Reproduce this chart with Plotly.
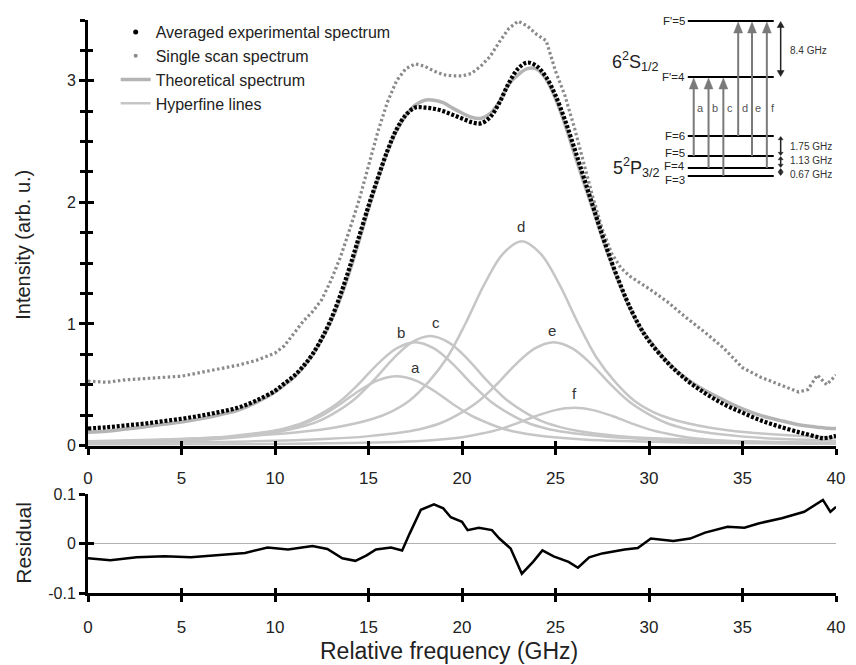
import plotly.graph_objects as go

# ---------------- data ----------------
avg_x = [0, 1, 2, 3, 4, 5, 6, 7, 8, 9, 10,
         10.5, 11, 11.5, 12, 12.5, 13, 13.5, 14, 14.5, 15, 15.5, 16, 16.5, 17, 17.5, 18, 18.5, 19, 19.5, 20,
         20.5, 21, 21.5, 22, 22.5, 23, 23.5, 24, 24.5, 25, 25.5, 26, 26.5, 27, 27.5, 28, 28.5, 29, 29.5, 30,
         31, 32, 33, 34, 35, 36, 37, 38, 38.5, 39, 39.3, 39.6, 40]
avg_y = [0.14, 0.15, 0.165, 0.18, 0.20, 0.22, 0.245, 0.275, 0.31, 0.37, 0.45,
         0.51, 0.57, 0.65, 0.75, 0.88, 1.04, 1.24, 1.47, 1.72, 1.97, 2.20, 2.42, 2.60, 2.72, 2.78, 2.78, 2.77, 2.75, 2.72, 2.69,
         2.66, 2.65, 2.70, 2.82, 2.98, 3.10, 3.15, 3.12, 3.03, 2.88, 2.68, 2.45, 2.21, 1.97, 1.73, 1.51, 1.31, 1.13, 0.98, 0.86,
         0.68, 0.54, 0.43, 0.34, 0.27, 0.205, 0.155, 0.11, 0.09, 0.07, 0.06, 0.065, 0.08]

theo_y = [0.11, 0.118, 0.135, 0.153, 0.174, 0.193, 0.219, 0.251, 0.29, 0.355, 0.44,
          0.498, 0.56, 0.643, 0.745, 0.872, 1.025, 1.212, 1.436, 1.687, 1.948, 2.189, 2.412, 2.59, 2.715, 2.80, 2.84, 2.84, 2.82, 2.775, 2.735,
          2.70, 2.69, 2.73, 2.83, 2.97, 3.05, 3.10, 3.095, 3.013, 2.853, 2.645, 2.404, 2.17, 1.944, 1.71, 1.494, 1.298, 1.12, 0.975, 0.87,
          0.686, 0.55, 0.452, 0.373, 0.302, 0.246, 0.207, 0.171, 0.16, 0.15, 0.146, 0.142, 0.14]

ss_x = [0, 1, 2, 3, 4, 5, 6, 7, 8, 9, 10,
        10.5, 11, 11.5, 12, 12.5, 13, 13.5, 14, 14.5, 15, 15.5, 16, 16.5, 17, 17.5, 18, 18.5, 19, 19.5, 20,
        20.5, 21, 21.5, 22, 22.5, 23, 23.5, 24, 24.5, 25, 25.5, 26, 26.5, 27, 27.5, 28, 28.5, 29, 29.5, 30,
        31, 32, 33, 34, 35, 36, 37, 38, 38.5, 39, 39.5, 40]
ss_y = [0.53, 0.52, 0.54, 0.55, 0.56, 0.57, 0.60, 0.63, 0.66, 0.70, 0.76,
        0.82, 0.92, 1.02, 1.10, 1.20, 1.36, 1.55, 1.78, 2.02, 2.30, 2.58, 2.82, 3.00, 3.10, 3.14, 3.12, 3.08, 3.05, 3.04, 3.04,
        3.06, 3.12, 3.20, 3.32, 3.43, 3.49, 3.45, 3.38, 3.33, 3.08, 2.88, 2.62, 2.32, 2.04, 1.78, 1.58, 1.46, 1.39, 1.34, 1.29,
        1.18, 1.05, 0.93, 0.80, 0.64, 0.56, 0.50, 0.44, 0.46, 0.58, 0.50, 0.58]

hf_a_x = [0, 4.5, 6.5, 8.5, 9.5, 10.5, 11.5, 12.5, 13.5, 14.5, 15.5, 16.5, 17.5, 18.5, 19.5, 20.5, 21.5, 22.5, 23.5, 24.5, 26.5, 28.5, 32.5, 40]
hf_a_y = [0.022, 0.037, 0.050, 0.074, 0.094, 0.125, 0.177, 0.245, 0.342, 0.450, 0.536, 0.570, 0.536, 0.450, 0.342, 0.245, 0.177, 0.125, 0.094, 0.074, 0.050, 0.037, 0.023, 0.012]
hf_b_x = [0, 1.5, 5.5, 7.5, 9.5, 10.5, 11.5, 12.5, 13.5, 14.5, 15.5, 16.5, 17.5, 18.5, 19.5, 20.5, 21.5, 22.5, 23.5, 24.5, 25.5, 27.5, 29.5, 33.5, 40]
hf_b_y = [0.031, 0.034, 0.055, 0.075, 0.111, 0.140, 0.187, 0.264, 0.366, 0.510, 0.672, 0.799, 0.850, 0.799, 0.672, 0.510, 0.366, 0.264, 0.187, 0.140, 0.111, 0.075, 0.055, 0.034, 0.020]
hf_c_x = [0, 2.3, 6.3, 8.3, 10.3, 11.3, 12.3, 13.3, 14.3, 15.3, 16.3, 17.3, 18.3, 19.3, 20.3, 21.3, 22.3, 23.3, 24.3, 25.3, 26.3, 28.3, 30.3, 34.3, 40]
hf_c_y = [0.031, 0.036, 0.059, 0.079, 0.117, 0.149, 0.198, 0.279, 0.387, 0.540, 0.711, 0.846, 0.900, 0.846, 0.711, 0.540, 0.387, 0.279, 0.198, 0.149, 0.117, 0.079, 0.059, 0.036, 0.023]
hf_d_x = [0, 7.2, 11.2, 13.2, 15.2, 16.2, 17.2, 18.2, 19.2, 20.2, 21.2, 22.2, 23.2, 24.2, 25.2, 26.2, 27.2, 28.2, 29.2, 30.2, 31.2, 33.2, 35.2, 40]
hf_d_y = [0.035, 0.067, 0.109, 0.148, 0.218, 0.277, 0.370, 0.521, 0.722, 1.008, 1.327, 1.579, 1.680, 1.579, 1.327, 1.008, 0.722, 0.521, 0.370, 0.277, 0.218, 0.148, 0.109, 0.064]
hf_e_x = [0, 8.9, 12.9, 14.9, 16.9, 17.9, 18.9, 19.9, 20.9, 21.9, 22.9, 23.9, 24.9, 25.9, 26.9, 27.9, 28.9, 29.9, 30.9, 31.9, 32.9, 34.9, 36.9, 40]
hf_e_y = [0.016, 0.034, 0.055, 0.075, 0.111, 0.140, 0.187, 0.264, 0.366, 0.510, 0.672, 0.799, 0.850, 0.799, 0.672, 0.510, 0.366, 0.264, 0.187, 0.140, 0.111, 0.075, 0.055, 0.040]
hf_f_x = [0, 10, 14, 16, 18, 19, 20, 21, 22, 23, 24, 25, 26, 27, 28, 29, 30, 31, 32, 33, 34, 36, 38, 40]
hf_f_y = [0.005, 0.012, 0.020, 0.027, 0.040, 0.051, 0.068, 0.096, 0.133, 0.186, 0.245, 0.291, 0.310, 0.291, 0.245, 0.186, 0.133, 0.096, 0.068, 0.051, 0.040, 0.027, 0.020, 0.016]

hf_names = ["a", "b", "c", "d", "e", "f"]

res_x = [0, 1.2, 2.6, 4.1, 5.5, 7.0, 8.4, 9.6, 10.7, 12.0, 12.8, 13.6, 14.3, 14.9, 15.4, 16.2, 16.8, 17.2, 17.8, 18.5,
         19.0, 19.4, 20.0, 20.3, 20.9, 21.6, 22.0, 22.6, 23.2, 23.8, 24.3, 24.9, 25.7, 26.2, 26.8, 27.5, 28.7, 29.4, 30.1, 31.3,
         32.2, 33.0, 34.2, 35.1, 35.9, 37.1, 38.3, 39.3, 39.7, 40]
res_y = [-0.030, -0.034, -0.028, -0.026, -0.028, -0.024, -0.019, -0.008, -0.012, -0.005, -0.011, -0.030, -0.035, -0.024, -0.012,
         -0.008, -0.014, 0.020, 0.068, 0.079, 0.071, 0.053, 0.044, 0.027, 0.032, 0.027, 0.010, -0.010, -0.061, -0.037,
         -0.014, -0.026, -0.037, -0.049, -0.028, -0.020, -0.012, -0.009, 0.010, 0.005, 0.010, 0.022, 0.034, 0.032, 0.041,
         0.051, 0.064, 0.088, 0.064, 0.074]

x_ticks = [0, 5, 10, 15, 20, 25, 30, 35, 40]
y_ticks = [0, 1, 2, 3]
res_ticks = [-0.1, 0, 0.1]
res_tick_text = ["-0.1", "0", "0.1"]

legend_names = ["Averaged experimental spectrum", "Single scan spectrum", "Theoretical spectrum", "Hyperfine lines"]

# energy level diagram content
level_names = ["F'=5", "F'=4", "F=6", "F=5", "F=4", "F=3"]
transition_names = ["a", "b", "c", "d", "e", "f"]
transition_lower = ["F=5", "F=4", "F=3", "F=6", "F=5", "F=4"]
transition_upper = ["F'=4", "F'=4", "F'=4", "F'=5", "F'=5", "F'=5"]
split_labels = ["8.4 GHz", "1.75 GHz", "1.13 GHz", "0.67 GHz"]
split_pairs = [("F'=5", "F'=4"), ("F=6", "F=5"), ("F=5", "F=4"), ("F=4", "F=3")]

# ---------------- styling ----------------
W, H = 856, 665
ML, MR, MT, MB = 88, 11, 20, 72
PW, PH = W - ML - MR, H - MT - MB
FONT = "Liberation Sans, Arial, sans-serif"
C_HF = "#c6c6c6"
C_TH = "#b4b4b4"
C_SS = "#8a8a8a"
C_ARR = "#7a7a7a"


def px2paper(px, py):
    return (px - ML) / PW, (H - MB - py) / PH


fig = go.Figure()

hf_sets = [(hf_a_x, hf_a_y), (hf_b_x, hf_b_y), (hf_c_x, hf_c_y),
           (hf_d_x, hf_d_y), (hf_e_x, hf_e_y), (hf_f_x, hf_f_y)]
for name, (hx, hy) in zip(hf_names, hf_sets):
    fig.add_trace(go.Scatter(x=hx, y=hy, mode="lines", line=dict(color=C_HF, width=2.5, shape="spline"),
                             showlegend=False, hoverinfo="skip", name=name))

fig.add_trace(go.Scatter(x=avg_x, y=theo_y, mode="lines", line=dict(color=C_TH, width=3.5, shape="spline"),
                         showlegend=False))
fig.add_trace(go.Scatter(x=ss_x, y=ss_y, mode="lines", line=dict(color=C_SS, width=3.2, dash="2.5px,2.5px"),
                         showlegend=False))
fig.add_trace(go.Scatter(x=avg_x, y=avg_y, mode="lines",
                         line=dict(color="black", width=4.2, dash="3px,1.8px", shape="spline"),
                         showlegend=False))

# legend entries
fig.add_trace(go.Scatter(x=[None], y=[None], mode="markers", marker=dict(color="black", size=5),
                         name=legend_names[0], legendgroup="g1"))
fig.add_trace(go.Scatter(x=[None], y=[None], mode="markers", marker=dict(color=C_SS, size=4),
                         name=legend_names[1], legendgroup="g2"))
fig.add_trace(go.Scatter(x=[None], y=[None], mode="lines", line=dict(color=C_TH, width=3.5),
                         name=legend_names[2], legendgroup="g3"))
fig.add_trace(go.Scatter(x=[None], y=[None], mode="lines", line=dict(color=C_HF, width=2.5),
                         name=legend_names[3], legendgroup="g4"))

# residual
fig.add_trace(go.Scatter(x=res_x, y=res_y, mode="lines", line=dict(color="black", width=2.5),
                         xaxis="x2", yaxis="y2", showlegend=False))

# dummy traces to realise the overlay (crossing tick) axes
for xa, ya in [("x3", "y"), ("x", "y3"), ("x4", "y2"), ("x2", "y4")]:
    fig.add_trace(go.Scatter(x=[None], y=[None], xaxis=xa, yaxis=ya, showlegend=False, hoverinfo="skip"))

main_bot = (H - MB - 445.5) / PH
res_top = (H - MB - 494) / PH

axis_common = dict(showgrid=False, zeroline=False, showline=True, linecolor="black", linewidth=3,
                   tickcolor="black", tickwidth=2.5)
tickfont_x = dict(family=FONT, size=17, color="#222")
tickfont_y = dict(family=FONT, size=16, color="#222")
overlay_common = dict(showticklabels=False, showline=False, showgrid=False, zeroline=False,
                      tickwidth=2.5, tickcolor="black", ticks="inside")

fig.update_layout(
    width=W, height=H, margin=dict(l=ML, r=MR, t=MT, b=MB),
    paper_bgcolor="white", plot_bgcolor="white",
    font=dict(family=FONT, color="#222"),
    showlegend=True,
    legend=dict(x=px2paper(116, 0)[0], y=px2paper(0, 15)[1], xanchor="left", yanchor="top",
                font=dict(family=FONT, size=16, color="#222"), bgcolor="rgba(0,0,0,0)",
                tracegroupgap=0, itemwidth=30),
    xaxis=dict(axis_common, domain=[0, 1], range=[0, 40], anchor="y", tickvals=x_ticks,
               ticks="outside", ticklen=6, tickfont=tickfont_x, ticklabelstandoff=9),
    yaxis=dict(axis_common, domain=[main_bot, 1], range=[0, 3.5], anchor="x", tickvals=y_ticks,
               ticks="outside", ticklen=6, tickfont=tickfont_y,
               minor=dict(dtick=0.25, ticks="outside", ticklen=5, tickwidth=2.5, tickcolor="black")),
    xaxis2=dict(axis_common, domain=[0, 1], range=[0, 40], anchor="y2", tickvals=x_ticks,
                ticks="outside", ticklen=6, tickfont=tickfont_x, ticklabelstandoff=11),
    yaxis2=dict(axis_common, domain=[0, res_top], range=[-0.1, 0.1], anchor="x2", tickvals=res_ticks,
                ticktext=res_tick_text, ticks="outside", ticklen=6, tickfont=tickfont_y,
                zeroline=True, zerolinecolor="#b0b0b0", zerolinewidth=1),
    xaxis3=dict(overlay_common, overlaying="x", anchor="y", range=[0, 40], tickvals=x_ticks, ticklen=5),
    yaxis3=dict(overlay_common, overlaying="y", anchor="x", range=[0, 3.5], tickvals=y_ticks, ticklen=6,
                minor=dict(dtick=0.25, ticks="inside", ticklen=5, tickwidth=2.5, tickcolor="black")),
    xaxis4=dict(overlay_common, overlaying="x2", anchor="y2", range=[0, 40], tickvals=x_ticks, ticklen=5),
    yaxis4=dict(overlay_common, overlaying="y2", anchor="x2", range=[-0.1, 0.1], tickvals=res_ticks, ticklen=6),
)

ann = []
shapes = []
# axis titles
tx, ty = px2paper(22, 245)
ann.append(dict(x=tx, y=ty, xref="paper", yref="paper", text="Intensity (arb. u.)", textangle=-90,
                showarrow=False, font=dict(family=FONT, size=20, color="#222"), xanchor="center", yanchor="middle"))
tx, ty = px2paper(22, 543)
ann.append(dict(x=tx, y=ty, xref="paper", yref="paper", text="Residual", textangle=-90,
                showarrow=False, font=dict(family=FONT, size=21, color="#222"), xanchor="center", yanchor="middle"))
tx, ty = px2paper(453, 651)
ann.append(dict(x=tx, y=ty, xref="paper", yref="paper", text="Relative frequency (GHz)",
                showarrow=False, font=dict(family=FONT, size=23, color="#222"), xanchor="center", yanchor="middle"))

# hyperfine line labels (placed near each peak)
hf_label_pos = [(17.5, 0.645), (16.75, 0.93), (18.6, 1.01), (23.15, 1.80), (24.8, 0.95), (26.0, 0.43)]
for name, (lx, ly) in zip(hf_names, hf_label_pos):
    ann.append(dict(x=lx, y=ly, xref="x", yref="y", text=name, showarrow=False,
                    font=dict(family=FONT, size=15, color="#333"), xanchor="center", yanchor="middle"))

# ---------------- energy level diagram (inset, layout decoration) ----------------
lev_x0, lev_x1 = 695, 782
level_py = dict(zip(level_names, [21, 77, 136, 156, 168, 176]))
level_label_py = dict(zip(level_names, [21, 77, 136, 152.5, 166, 179.5]))


def seg(px0, py0, px1, py1, color, width):
    x0, y0 = px2paper(px0, py0)
    x1, y1 = px2paper(px1, py1)
    return dict(type="line", xref="paper", yref="paper", x0=x0, y0=y0, x1=x1, y1=y1,
                line=dict(color=color, width=width), layer="above")


def tri(px, py_tip, direction, hw, hh, color):
    # direction -1: pointing up (tip at top), +1: pointing down
    base = py_tip - direction * hh
    pts = [px2paper(px, py_tip), px2paper(px - hw, base), px2paper(px + hw, base)]
    path = "M {:.5f},{:.5f} L {:.5f},{:.5f} L {:.5f},{:.5f} Z".format(*pts[0], *pts[1], *pts[2])
    return dict(type="path", xref="paper", yref="paper", path=path, fillcolor=color,
                line=dict(color=color, width=0.5), layer="above")


for lab in level_names:
    py = level_py[lab]
    shapes.append(seg(lev_x0, py, lev_x1, py, "black", 2.2))
    lx, ly = px2paper(694, level_label_py[lab])
    ann.append(dict(x=lx, y=ly, xref="paper", yref="paper", text=lab, showarrow=False,
                    font=dict(family=FONT, size=11.5, color="#222"), xanchor="right", yanchor="middle"))

arrow_px = [701, 716, 731, 746, 760, 775]
for name, apx, lo, up in zip(transition_names, arrow_px, transition_lower, transition_upper):
    tail, head = level_py[lo], level_py[up]
    shapes.append(seg(apx, tail, apx, head + 9, C_ARR, 2))
    shapes.append(tri(apx, head + 1, -1, 4.5, 11, C_ARR))
    lx, ly = px2paper(apx + 6.5, 108)
    ann.append(dict(x=lx, y=ly, xref="paper", yref="paper", text=name, showarrow=False,
                    font=dict(family=FONT, size=11, color="#555"), xanchor="center", yanchor="middle"))

split_label_py = [50, 146, 160.5, 174]
for (up, lo), txt, tpy in zip(split_pairs, split_labels, split_label_py):
    top, bot = level_py[up], level_py[lo]
    hh = 6 if bot - top > 30 else 3.2
    hw = 3.5 if bot - top > 30 else 2.5
    shapes.append(seg(789, top + hh, 789, bot - hh, "#222", 1.5))
    shapes.append(tri(789, top + 0.5, -1, hw, hh, "#222"))
    shapes.append(tri(789, bot - 0.5, 1, hw, hh, "#222"))
    lx, ly = px2paper(796, tpy)
    ann.append(dict(x=lx, y=ly, xref="paper", yref="paper", text=txt, showarrow=False,
                    font=dict(family=FONT, size=10, color="#333"), xanchor="left", yanchor="middle"))

sx, sy = px2paper(642, 62)
ann.append(dict(x=sx, y=sy, xref="paper", yref="paper", text="6<sup>2</sup>S<sub>1/2</sub>", showarrow=False,
                font=dict(family=FONT, size=18, color="#222"), xanchor="center", yanchor="middle"))
sx, sy = px2paper(643, 167)
ann.append(dict(x=sx, y=sy, xref="paper", yref="paper", text="5<sup>2</sup>P<sub>3/2</sub>", showarrow=False,
                font=dict(family=FONT, size=18, color="#222"), xanchor="center", yanchor="middle"))

fig.update_layout(annotations=ann, shapes=shapes)

fig.write_html("out.html")
